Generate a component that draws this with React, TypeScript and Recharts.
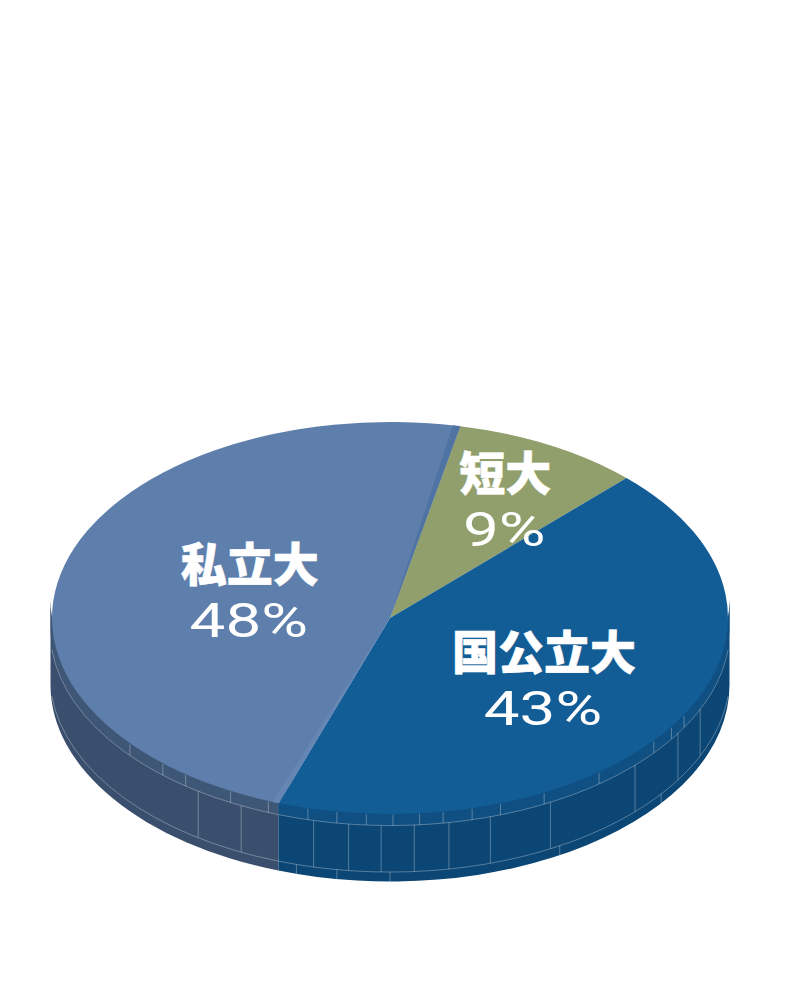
import { Pie, PieChart, Sector } from "recharts";

const NAMES = ["短大", "国公立大", "私立大"];
const SHARES = [9, 43, 48];
const TOP_COLORS = ["#919f6c", "#135d97", "#5e7fac"];
const WALL_COLORS = ["#919f6c", "#0c4674", "#3a4f6e"];
const BAND_COLORS = ["#919f6c", "#0f4f82", "#3e5777"];
const LABEL_RADII = [0.69, 0.55, 0.44];
const LABEL_NUDGES = [[5, 2], [-4, 5], [3, -3]];

// facet lines on the rim of the pie, in degrees
const WALL_TICKS = [-24, -32, -43.8, -61.8, -72.8, -80, -85.9, -91.5, -97, -103, -116, -124.4];
const BAND_TICKS = [-30, -34, -39, -52, -63, -71, -76, -81, -85, -89.5, -94, -99, -104, -111, -118, -127, -132, -140];
const FOOT_TICKS = [-37, -60, -90, -99, -106];

const data = NAMES.map((name, i) => ({ name, value: SHARES[i], index: i }));

const WIDTH = 800;
const HEIGHT = 1000;
const CX = 390;
const CY = 618;
const RADIUS = 338;
const SQUASH = 0.58;
const START_ANGLE = 78;
const BAND = 11;
const WALL = 57.5;
const DEPTH = 67;
const LINE = "rgba(255,255,255,0.3)";

function WallShape(props: any) {
	const { cx, cy, outerRadius, startAngle, endAngle, payload } = props;
	const from = Math.min(startAngle, 0);
	const to = Math.max(endAngle, -180);
	if (to >= from) return <g />;

	const rx = outerRadius + 1.5;
	const ry = outerRadius * SQUASH + 0.5;
	const point = (angle: number, drop: number, radius = rx) => {
		const rad = (angle * Math.PI) / 180;
		return [cx + radius * Math.cos(rad), cy - ry * Math.sin(rad) + drop];
	};
	const band = (t0: number, t1: number) =>
		`M${point(from, t0)} A${rx} ${ry} 0 0 1 ${point(to, t0)} L${point(to, t1)} A${rx} ${ry} 0 0 0 ${point(from, t1)} Z`;
	// the rim lines run a little wider than the wall and stop short of its sides
	const rimLine = (t: number) => {
		const lineRx = outerRadius + 2;
		const a = Math.min(from, -6);
		const b = Math.max(to, -174);
		return `M${point(a, t, lineRx)} A${lineRx} ${ry} 0 0 1 ${point(b, t, lineRx)}`;
	};
	const ticks = (angles: number[], t0: number, t1: number) =>
		angles
			.filter((a) => a < from && a > to)
			.map((a) => {
				const [x1, y1] = point(a, t0);
				const [x2, y2] = point(a, t1);
				return <line key={`${a}-${t0}`} x1={x1} y1={y1} x2={x2} y2={y2} stroke={LINE} strokeWidth={1} />;
			});

	return (
		<g>
			{/* both fills start above the rim, the top face hides that part */}
			<path d={band(-18, DEPTH)} fill={WALL_COLORS[payload.index]} />
			<path d={band(-18, BAND)} fill={BAND_COLORS[payload.index]} />
			<path d={rimLine(BAND)} fill="none" stroke={LINE} strokeWidth={1} />
			<path d={rimLine(WALL)} fill="none" stroke={LINE} strokeWidth={1} />
			{ticks(WALL_TICKS, BAND, WALL)}
			{ticks(BAND_TICKS, 0, BAND)}
			{ticks(FOOT_TICKS, WALL, DEPTH)}
		</g>
	);
}

function TopShape(props: any) {
	const { cx, cy, outerRadius, startAngle, endAngle, payload } = props;
	const common = { cx, cy, innerRadius: 0, outerRadius };
	return (
		<g transform={`translate(${cx} ${cy}) scale(1 ${SQUASH}) translate(${-cx} ${-cy})`}>
			<Sector {...common} startAngle={startAngle} endAngle={endAngle} fill={TOP_COLORS[payload.index]} stroke="none" />
			{payload.index === 2 && (
				<>
					<Sector {...common} startAngle={endAngle + 1.3} endAngle={endAngle} fill="#4f73a3" stroke="none" />
					<Sector {...common} startAngle={startAngle} endAngle={startAngle - 1.2} fill="#6586b2" stroke="none" />
				</>
			)}
		</g>
	);
}

function SliceLabel(props: any) {
	const { cx, cy, midAngle, outerRadius, payload } = props;
	const rad = (midAngle * Math.PI) / 180;
	const r = outerRadius * LABEL_RADII[payload.index];
	const [nudgeX, nudgeY] = LABEL_NUDGES[payload.index];
	const x = cx + r * Math.cos(rad) + nudgeX;
	const y = cy - r * SQUASH * Math.sin(rad) + nudgeY;
	return (
		<g>
			<text
				x={x}
				y={y - 11}
				textAnchor="middle"
				fill="#fff"
				stroke="#fff"
				strokeWidth={0.6}
				fontFamily="'Noto Sans CJK JP'"
				fontWeight={900}
				fontSize={46}
			>
				{payload.name}
			</text>
			<text
				transform={`translate(${x - 1} ${y + 45}) scale(1.33 1)`}
				textAnchor="middle"
				fill="#fff"
				fontFamily="Roboto"
				fontWeight={400}
				fontSize={48}
			>
				{`${payload.value}%`}
			</text>
		</g>
	);
}

export default function App() {
	return (
		<div style={{ position: "absolute", left: 0, top: 0, width: WIDTH, height: HEIGHT, background: "#fff" }}>
			<PieChart width={WIDTH} height={HEIGHT} margin={{ top: 0, right: 0, bottom: 0, left: 0 }}>
				<Pie
					data={data}
					dataKey="value"
					nameKey="name"
					cx={CX}
					cy={CY}
					outerRadius={RADIUS}
					startAngle={START_ANGLE}
					endAngle={START_ANGLE - 360}
					paddingAngle={0}
					stroke="none"
					shape={WallShape}
					isAnimationActive={false}
				/>
				<Pie
					data={data}
					dataKey="value"
					nameKey="name"
					cx={CX}
					cy={CY}
					outerRadius={RADIUS}
					startAngle={START_ANGLE}
					endAngle={START_ANGLE - 360}
					paddingAngle={0}
					stroke="none"
					shape={TopShape}
					label={SliceLabel}
					labelLine={false}
					isAnimationActive={false}
				/>
			</PieChart>
		</div>
	);
}
